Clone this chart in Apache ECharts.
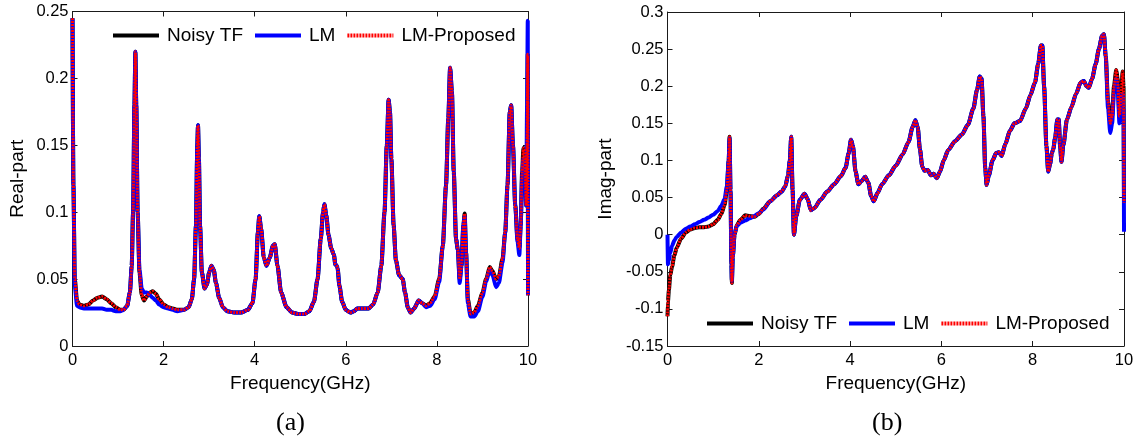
<!DOCTYPE html>
<html><head><meta charset="utf-8">
<script src="https://cdn.jsdelivr.net/npm/echarts@6/dist/echarts.min.js"></script>
<style>html,body{margin:0;padding:0;background:#fff}#c{width:1138px;height:442px}</style>
</head><body><div id="c"></div>
<script>
// ---- Panel (a): Real-part ----
const realFreq = [0,0.02,0.05,0.1,0.15,0.25,0.35,0.45,0.55,0.65,0.75,0.85,0.95,1.05,1.12,1.2,1.26,1.3,1.33,1.36,1.38,1.40,1.43,1.47,1.52,1.57,1.63,1.7,1.76,1.83,1.9,2.0,2.1,2.2,2.3,2.45,2.55,2.62,2.67,2.71,2.74,2.755,2.775,2.8,2.84,2.9,2.95,3.0,3.05,3.1,3.15,3.22,3.3,3.4,3.55,3.7,3.85,3.95,4.02,4.07,4.1,4.14,4.2,4.26,4.33,4.4,4.44,4.5,4.58,4.7,4.82,4.95,5.1,5.2,5.3,5.38,5.45,5.5,5.53,5.57,5.62,5.68,5.74,5.77,5.8,5.82,5.86,5.92,6.0,6.1,6.18,6.25,6.35,6.5,6.6,6.7,6.78,6.85,6.9,6.94,6.97,7.0,7.05,7.1,7.17,7.25,7.3,7.36,7.42,7.5,7.6,7.68,7.76,7.85,7.95,8.05,8.13,8.2,8.25,8.29,8.33,8.37,8.42,8.46,8.5,8.54,8.58,8.61,8.64,8.68,8.74,8.82,8.9,9.0,9.08,9.16,9.22,9.3,9.36,9.44,9.5,9.55,9.6,9.63,9.67,9.72,9.77,9.81,9.84,9.87,9.9,9.93,9.96,9.98,9.995,10];
const realNoisy = [0.245,0.12,0.05,0.034,0.031,0.030,0.031,0.034,0.036,0.037,0.035,0.032,0.029,0.027,0.027,0.030,0.040,0.06,0.10,0.18,0.22,0.18,0.10,0.055,0.038,0.034,0.037,0.040,0.041,0.039,0.035,0.031,0.029,0.028,0.027,0.027,0.029,0.035,0.05,0.09,0.15,0.165,0.14,0.09,0.055,0.043,0.046,0.055,0.06,0.057,0.047,0.036,0.029,0.026,0.025,0.025,0.027,0.032,0.05,0.085,0.097,0.088,0.066,0.06,0.066,0.075,0.076,0.06,0.04,0.029,0.025,0.024,0.024,0.026,0.033,0.05,0.08,0.10,0.106,0.098,0.083,0.073,0.068,0.061,0.06,0.058,0.045,0.033,0.027,0.025,0.026,0.028,0.028,0.028,0.031,0.04,0.06,0.10,0.15,0.184,0.175,0.14,0.09,0.064,0.053,0.05,0.04,0.029,0.025,0.028,0.034,0.032,0.030,0.032,0.037,0.05,0.075,0.12,0.17,0.208,0.19,0.13,0.08,0.072,0.05,0.06,0.09,0.099,0.07,0.035,0.024,0.025,0.03,0.04,0.05,0.059,0.056,0.05,0.052,0.065,0.085,0.12,0.175,0.18,0.15,0.105,0.08,0.073,0.09,0.13,0.148,0.14,0.105,0.15,0.218,0.038];
const realLM = [0.245,0.12,0.045,0.030,0.029,0.028,0.028,0.028,0.028,0.028,0.027,0.027,0.026,0.026,0.027,0.030,0.040,0.06,0.10,0.18,0.22,0.18,0.10,0.057,0.043,0.040,0.040,0.038,0.036,0.034,0.031,0.029,0.028,0.027,0.026,0.027,0.029,0.035,0.05,0.09,0.15,0.165,0.14,0.09,0.055,0.043,0.046,0.055,0.06,0.057,0.047,0.036,0.029,0.026,0.025,0.025,0.027,0.032,0.05,0.085,0.097,0.088,0.066,0.06,0.066,0.075,0.076,0.06,0.04,0.029,0.025,0.024,0.024,0.026,0.033,0.05,0.08,0.10,0.106,0.098,0.083,0.073,0.068,0.061,0.06,0.058,0.045,0.033,0.027,0.025,0.026,0.028,0.028,0.028,0.031,0.04,0.06,0.10,0.15,0.184,0.175,0.14,0.09,0.064,0.053,0.05,0.04,0.029,0.025,0.028,0.034,0.032,0.029,0.030,0.035,0.048,0.075,0.12,0.17,0.208,0.19,0.13,0.08,0.072,0.047,0.06,0.09,0.097,0.07,0.032,0.022,0.022,0.026,0.037,0.048,0.057,0.053,0.044,0.047,0.062,0.085,0.12,0.175,0.18,0.15,0.105,0.078,0.068,0.09,0.125,0.14,0.13,0.105,0.18,0.243,0.038];
const realProposed = [0.245,0.12,0.05,0.034,0.031,0.030,0.031,0.034,0.036,0.037,0.035,0.032,0.029,0.027,0.027,0.030,0.040,0.06,0.10,0.18,0.22,0.18,0.10,0.055,0.038,0.034,0.037,0.040,0.041,0.039,0.035,0.031,0.029,0.028,0.027,0.027,0.029,0.035,0.05,0.09,0.15,0.165,0.14,0.09,0.055,0.043,0.046,0.055,0.06,0.057,0.047,0.036,0.029,0.026,0.025,0.025,0.027,0.032,0.05,0.085,0.097,0.088,0.066,0.06,0.066,0.075,0.076,0.06,0.04,0.029,0.025,0.024,0.024,0.026,0.033,0.05,0.08,0.10,0.106,0.098,0.083,0.073,0.068,0.061,0.06,0.058,0.045,0.033,0.027,0.025,0.026,0.028,0.028,0.028,0.031,0.04,0.06,0.10,0.15,0.184,0.175,0.14,0.09,0.064,0.053,0.05,0.04,0.029,0.025,0.028,0.034,0.032,0.030,0.032,0.037,0.05,0.075,0.12,0.17,0.208,0.19,0.13,0.08,0.072,0.05,0.06,0.09,0.099,0.07,0.035,0.024,0.025,0.03,0.04,0.05,0.059,0.056,0.05,0.052,0.065,0.085,0.12,0.175,0.18,0.15,0.105,0.08,0.073,0.09,0.13,0.148,0.14,0.105,0.15,0.218,0.038];

// ---- Panel (b): Imag-part ----
const imagFreq = [0,0.01,0.03,0.06,0.1,0.15,0.2,0.3,0.4,0.5,0.6,0.7,0.8,0.9,1.0,1.1,1.18,1.25,1.3,1.34,1.36,1.38,1.4,1.41,1.43,1.47,1.52,1.6,1.7,1.8,1.9,2.0,2.1,2.25,2.4,2.5,2.58,2.64,2.68,2.71,2.74,2.77,2.82,2.9,3.0,3.07,3.14,3.22,3.35,3.5,3.65,3.8,3.9,3.97,4.02,4.06,4.12,4.18,4.25,4.33,4.4,4.46,4.52,4.6,4.7,4.85,5.0,5.15,5.28,5.37,5.43,5.48,5.53,5.58,5.63,5.7,5.77,5.83,5.9,5.97,6.05,6.15,6.3,6.45,6.58,6.7,6.78,6.84,6.88,6.92,6.96,6.99,7.04,7.12,7.2,7.26,7.32,7.4,7.5,7.6,7.72,7.85,7.95,8.05,8.12,8.18,8.21,8.25,8.3,8.34,8.38,8.42,8.45,8.49,8.54,8.57,8.6,8.63,8.67,8.75,8.85,8.95,9.05,9.12,9.18,9.23,9.3,9.38,9.45,9.52,9.56,9.6,9.65,9.7,9.74,9.78,9.83,9.86,9.9,9.94,9.97,9.99,10];
const imagNoisy = [-0.11,-0.09,-0.075,-0.055,-0.043,-0.028,-0.018,-0.005,0.003,0.007,0.009,0.010,0.010,0.011,0.014,0.020,0.028,0.040,0.06,0.10,0.132,0.06,-0.04,-0.065,-0.03,0.0,0.013,0.020,0.026,0.025,0.024,0.028,0.035,0.045,0.053,0.058,0.065,0.08,0.10,0.132,0.06,0.0,0.025,0.047,0.055,0.048,0.033,0.036,0.047,0.058,0.068,0.079,0.09,0.11,0.128,0.12,0.085,0.068,0.072,0.078,0.07,0.052,0.045,0.056,0.068,0.08,0.093,0.108,0.125,0.145,0.154,0.145,0.115,0.092,0.086,0.087,0.080,0.082,0.076,0.085,0.10,0.114,0.126,0.135,0.148,0.17,0.195,0.213,0.21,0.16,0.09,0.067,0.08,0.10,0.11,0.111,0.106,0.122,0.14,0.15,0.153,0.17,0.188,0.205,0.23,0.255,0.255,0.20,0.12,0.085,0.095,0.11,0.115,0.13,0.155,0.155,0.12,0.098,0.12,0.155,0.172,0.19,0.205,0.207,0.20,0.198,0.21,0.23,0.25,0.268,0.27,0.24,0.18,0.15,0.16,0.20,0.222,0.21,0.16,0.19,0.22,0.20,0.043];
const imagLM = [0.0,-0.04,-0.035,-0.025,-0.015,-0.008,-0.003,0.003,0.008,0.011,0.014,0.017,0.020,0.023,0.027,0.032,0.039,0.048,0.065,0.10,0.13,0.06,-0.04,-0.062,-0.03,0.002,0.012,0.016,0.019,0.022,0.025,0.029,0.034,0.045,0.053,0.058,0.065,0.08,0.10,0.132,0.06,0.0,0.025,0.047,0.055,0.048,0.033,0.036,0.047,0.058,0.068,0.079,0.09,0.11,0.128,0.12,0.085,0.068,0.072,0.078,0.07,0.052,0.045,0.056,0.068,0.08,0.093,0.108,0.125,0.145,0.154,0.145,0.115,0.092,0.086,0.087,0.080,0.082,0.076,0.085,0.10,0.114,0.126,0.135,0.148,0.17,0.195,0.213,0.21,0.16,0.09,0.067,0.08,0.10,0.11,0.111,0.106,0.122,0.14,0.15,0.153,0.17,0.188,0.205,0.23,0.255,0.255,0.20,0.12,0.085,0.095,0.11,0.115,0.13,0.155,0.155,0.12,0.098,0.12,0.155,0.172,0.19,0.205,0.207,0.20,0.198,0.21,0.23,0.25,0.268,0.27,0.24,0.17,0.137,0.15,0.19,0.21,0.20,0.15,0.185,0.19,0.17,0.004];
const imagProposed = [-0.11,-0.09,-0.075,-0.055,-0.043,-0.028,-0.018,-0.005,0.003,0.007,0.009,0.010,0.010,0.011,0.014,0.020,0.028,0.040,0.06,0.10,0.132,0.06,-0.04,-0.065,-0.03,0.0,0.013,0.020,0.026,0.025,0.024,0.028,0.035,0.045,0.053,0.058,0.065,0.08,0.10,0.132,0.06,0.0,0.025,0.047,0.055,0.048,0.033,0.036,0.047,0.058,0.068,0.079,0.09,0.11,0.128,0.12,0.085,0.068,0.072,0.078,0.07,0.052,0.045,0.056,0.068,0.08,0.093,0.108,0.125,0.145,0.154,0.145,0.115,0.092,0.086,0.087,0.080,0.082,0.076,0.085,0.10,0.114,0.126,0.135,0.148,0.17,0.195,0.213,0.21,0.16,0.09,0.067,0.08,0.10,0.11,0.111,0.106,0.122,0.14,0.15,0.153,0.17,0.188,0.205,0.23,0.255,0.255,0.20,0.12,0.085,0.095,0.11,0.115,0.13,0.155,0.155,0.12,0.098,0.12,0.155,0.172,0.19,0.205,0.207,0.20,0.198,0.21,0.23,0.25,0.268,0.27,0.24,0.18,0.15,0.16,0.20,0.222,0.21,0.16,0.19,0.22,0.20,0.043];

const seriesNames = ['Noisy TF','LM','LM-Proposed'];
const xName = 'Frequency(GHz)';
const yNames = ['Real-part','Imag-part'];
const captions = ['(a)','(b)'];

const FONT = '"Liberation Sans", Arial, Helvetica, sans-serif';
const zip = (xs, ys) => xs.map((x, i) => [x, ys[i]]);

function axesFor(g, ymin, ymax, yName, yNameGap) {
  const line = {show:true, onZero:false, lineStyle:{color:'#1a1a1a', width:1}};
  const tick = {show:true, inside:true, length:5, lineStyle:{color:'#1a1a1a', width:1}};
  const lab = {color:'#000', fontSize:16.5, fontFamily:FONT};
  return {
    x: [
      {type:'value', gridIndex:g, min:0, max:10, interval:2, position:'bottom', axisLine:line, axisTick:tick,
       axisLabel:Object.assign({margin:6}, lab), splitLine:{show:false},
       name:xName, nameLocation:'middle', nameGap:28, nameTextStyle:{color:'#000', fontSize:19, fontFamily:FONT}},
      {type:'value', gridIndex:g, min:0, max:10, interval:2, position:'top', axisLine:line, axisTick:tick,
       axisLabel:{show:false}, splitLine:{show:false}}
    ],
    y: [
      {type:'value', gridIndex:g, min:ymin, max:ymax, interval:0.05, position:'left', axisLine:line, axisTick:tick,
       axisLabel:Object.assign({margin:4}, lab), splitLine:{show:false},
       name:yName, nameLocation:'middle', nameGap:yNameGap, nameTextStyle:{color:'#000', fontSize:19, fontFamily:FONT}},
      {type:'value', gridIndex:g, min:ymin, max:ymax, interval:0.05, position:'right', axisLine:line, axisTick:tick,
       axisLabel:{show:false}, splitLine:{show:false}}
    ]
  };
}
const A = axesFor(0, 0, 0.25, yNames[0], 45);
const B = axesFor(1, -0.15, 0.3, yNames[1], 52);

function mk(name, data, xi, yi) {
  const styles = {
    'Noisy TF': {color:'#000000', width:4, type:'solid'},
    'LM': {color:'#0000ff', width:4, type:'solid'},
    'LM-Proposed': {color:'#ff0000', width:3, type:[2,1]}
  };
  const s = styles[name];
  return {type:'line', name, data, xAxisIndex:xi, yAxisIndex:yi, showSymbol:false, symbol:'none',
    smooth:0.25, smoothMonotone:'x', lineStyle:{color:s.color, width:s.width, type:s.type},
    itemStyle:{color:s.color}, emphasis:{disabled:true}};
}

const legendBase = {orient:'horizontal', itemWidth:46, itemHeight:14, itemGap:10, padding:0,
  itemStyle:{opacity:0, borderWidth:0}, lineStyle:{width:4},
  textStyle:{color:'#000', fontSize:19, fontFamily:FONT, padding:[0,0,0,3]}, data:seriesNames, selectedMode:false};

const chart = echarts.init(document.getElementById('c'), null, {renderer:'canvas'});
chart.setOption({
  animation:false,
  backgroundColor:'#fff',
  grid:[
    {left:72.5, top:11.5, width:455.5, height:334.5},
    {left:667.5, top:12, width:456.5, height:334}
  ],
  xAxis:[...A.x, ...B.x],
  yAxis:[...A.y, ...B.y],
  legend:[
    Object.assign({}, legendBase, {left:111, top:26}),
    Object.assign({}, legendBase, {left:705, top:314})
  ],
  series:[
    mk('Noisy TF', zip(realFreq, realNoisy), 0, 0),
    mk('LM', zip(realFreq, realLM), 0, 0),
    mk('LM-Proposed', zip(realFreq, realProposed), 0, 0),
    mk('Noisy TF', zip(imagFreq, imagNoisy), 2, 2),
    mk('LM', zip(imagFreq, imagLM), 2, 2),
    mk('LM-Proposed', zip(imagFreq, imagProposed), 2, 2)
  ],
  graphic:[
    {type:'text', left:276, top:410, style:{text:captions[0], font:'26px "Liberation Serif", "Times New Roman", serif', fill:'#000'}},
    {type:'text', left:872, top:410, style:{text:captions[1], font:'26px "Liberation Serif", "Times New Roman", serif', fill:'#000'}}
  ]
});
</script></body></html>
